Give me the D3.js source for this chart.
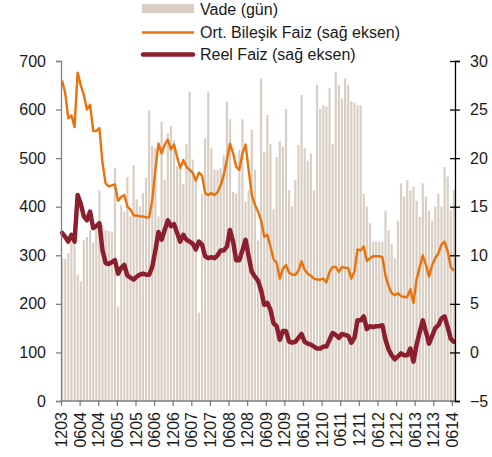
<!DOCTYPE html>
<html><head><meta charset="utf-8">
<script src="https://cdn.jsdelivr.net/npm/d3@7"></script>
<style>
html,body{margin:0;padding:0;background:#fff;}
text{font-family:Arial,"Liberation Sans",sans-serif;}
</style></head>
<body><svg id="c" width="492" height="457"></svg>
<script>
const tickLabels = ["1203","0604","1204","0605","1205","0606","1206","0607","1207","0608","1208","0609","1209","0610","1210","0611","1211","0612","1212","0613","1213","0614"];
const vade = [294,292,305,325,365,259,246,331,338,352,326,355,433,362,352,350,348,479,194,403,390,461,380,486,415,400,428,460,598,525,520,380,
575,455,551,566,537,484,479,447,529,637,497,458,182,426,541,637,520,476,476,479,506,616,580,431,427,517,580,410,434,558,476,330,
664,513,589,529,395,502,535,524,601,434,401,455,527,630,520,495,510,433,651,601,609,606,644,529,678,651,623,664,651,616,614,609,
609,427,400,366,328,328,328,328,392,351,323,294,371,448,421,455,434,441,412,379,448,421,392,371,400,426,400,482,462,393,434];
const ortFaiz = [28.0,26.7,24.1,24.4,23.2,28.8,27.5,26.5,25.0,25.5,22.8,22.8,23.1,19.5,17.4,17.1,17.2,17.3,15.6,16.0,16.2,15.0,14.7,14.1,14.1,14.0,14.0,13.9,13.9,15.7,18.8,21.5,
20.5,21.4,21.9,20.9,21.4,20.1,19.0,19.8,19.1,18.8,18.5,17.7,18.5,18.2,16.4,16.2,16.4,16.2,16.5,17.2,18.3,19.8,21.5,20.5,19.1,18.8,20.5,21.4,18.8,16.2,15.2,14.5,
13.6,11.9,12.1,10.9,9.6,9.2,7.6,8.6,9.0,8.2,8.0,8.0,8.4,9.4,8.5,8.1,7.9,7.6,7.5,7.5,7.6,7.2,8.3,8.8,8.8,8.3,8.8,8.7,8.7,7.6,8.3,10.6,
10.5,10.9,9.4,9.7,9.9,9.9,9.9,9.8,7.9,6.8,6.1,5.9,6.1,5.8,5.7,5.7,6.5,5.1,7.5,8.8,10.0,9.0,7.8,9.0,9.7,10.2,11.1,11.4,10.4,8.8,8.4];
const reelFaiz = [12.3,11.9,11.4,12.1,11.4,16.2,15.3,14.0,13.6,14.5,12.8,13.0,13.3,10.5,9.2,9.1,9.3,9.5,8.1,8.7,9.0,7.9,7.7,7.5,7.8,8.0,8.1,8.0,8.0,8.8,10.5,12.4,
11.6,12.6,13.6,13.0,13.2,12.3,11.4,12.1,11.6,11.4,11.2,10.6,11.4,11.1,9.9,9.7,9.8,9.7,10.0,10.5,10.5,10.9,12.6,11.4,9.5,9.5,10.5,11.6,9.9,8.3,7.8,7.4,
6.4,4.9,5.1,4.4,3.0,2.7,1.3,2.2,2.2,1.1,1.0,1.1,1.5,1.9,1.1,0.9,0.8,0.6,0.4,0.4,0.6,0.6,1.3,2.0,1.8,1.5,1.9,1.8,1.7,1.0,1.5,3.3,
3.3,3.7,2.4,2.7,2.6,2.7,2.7,2.8,1.3,0.3,-0.3,-0.7,-0.4,-0.1,-0.3,-0.3,0.4,-0.95,0.8,2.1,3.3,2.1,0.9,1.7,2.5,2.8,3.5,3.7,2.6,1.4,1.1];
const leftTicks = [0,100,200,300,400,500,600,700];
const rightTicks = [-5,0,5,10,15,20,25,30];
const seriesNames = ["Vade (gün)","Ort. Bileşik Faiz (sağ eksen)","Reel Faiz (sağ eksen)"];

const svg = d3.select("#c");
const L = 61, R = 455, T = 61, B = 401, FS = 16;
const idx = d3.range(vade.length);
const x = d3.scaleBand().domain(idx).range([L, R]).paddingInner(0.3).paddingOuter(0);
const yL = d3.scaleLinear().domain([0,700]).range([B,T]);
const yR = d3.scaleLinear().domain([-5,30]).range([B,T]);
const barCol = "#d9cec3", orange = "#e8720c", red = "#8b1f2e";

svg.append("g").selectAll("rect").data(idx).join("rect")
  .attr("x", i => x(i)).attr("width", x.bandwidth())
  .attr("y", i => yL(vade[i])).attr("height", i => B - yL(vade[i]))
  .attr("fill", barCol);

const lx = i => x(i) + x.bandwidth()/2;
svg.append("path").datum(idx)
  .attr("d", d3.line().x(lx).y(i => yR(ortFaiz[i])))
  .attr("fill","none").attr("stroke",orange).attr("stroke-width",2.4).attr("stroke-linejoin","round");
svg.append("path").datum(idx)
  .attr("d", d3.line().x(lx).y(i => yR(reelFaiz[i])))
  .attr("fill","none").attr("stroke",red).attr("stroke-width",4.5).attr("stroke-linejoin","round").attr("stroke-linecap","round");

// left axis
const gl = svg.append("g").attr("transform",`translate(${L},0)`)
  .call(d3.axisLeft(yL).tickValues(leftTicks).tickSize(5).tickPadding(10));
gl.select(".domain").attr("stroke","#808080").attr("stroke-width",1.3);
gl.selectAll(".tick line").attr("stroke","#808080").attr("stroke-width",1.3);
gl.selectAll("text").attr("font-size",FS).attr("fill","#1a1a1a");

// right axis
const gr = svg.append("g").attr("transform",`translate(${R},0)`)
  .call(d3.axisRight(yR).tickValues(rightTicks).tickSize(5).tickPadding(10));
gr.select(".domain").attr("stroke","#000").attr("stroke-width",1.3);
gr.selectAll(".tick line").attr("x1",-5).attr("stroke","#000").attr("stroke-width",1.3);
gr.selectAll("text").attr("font-size",FS).attr("fill","#1a1a1a");

// bottom axis
const xt = d3.scaleLinear().domain([0, vade.length]).range([L, R]);
const tickIdx = tickLabels.map((d,k) => k*6);
const gb = svg.append("g").attr("transform",`translate(0,${B})`)
  .call(d3.axisBottom(xt).tickValues(tickIdx).tickFormat((d,k) => tickLabels[k]).tickSize(5).tickSizeOuter(0));
gb.select(".domain").attr("stroke","#808080").attr("stroke-width",1.3).attr("d",`M${L},0H${R}`);
gb.selectAll(".tick line").attr("y1",-1).attr("stroke","#808080").attr("stroke-width",1.3);
gb.selectAll("text").attr("font-size",FS).attr("fill","#1a1a1a")
  .attr("transform","rotate(-90)").attr("text-anchor","end").attr("dy","0.35em").attr("x",-11).attr("y",0);

// legend
const lg = svg.append("g");
lg.append("rect").attr("x",142).attr("y",4).attr("width",52).attr("height",9).attr("fill",barCol);
lg.append("line").attr("x1",142).attr("x2",194).attr("y1",32.5).attr("y2",32.5).attr("stroke",orange).attr("stroke-width",2.4);
lg.append("line").attr("x1",143).attr("x2",193).attr("y1",54.5).attr("y2",54.5).attr("stroke",red).attr("stroke-width",4.5).attr("stroke-linecap","round");
[15,37.5,60].forEach((yy,k) => lg.append("text").attr("x",200).attr("y",yy).attr("font-size",FS).attr("fill","#1a1a1a").text(seriesNames[k]));
</script></body></html>
